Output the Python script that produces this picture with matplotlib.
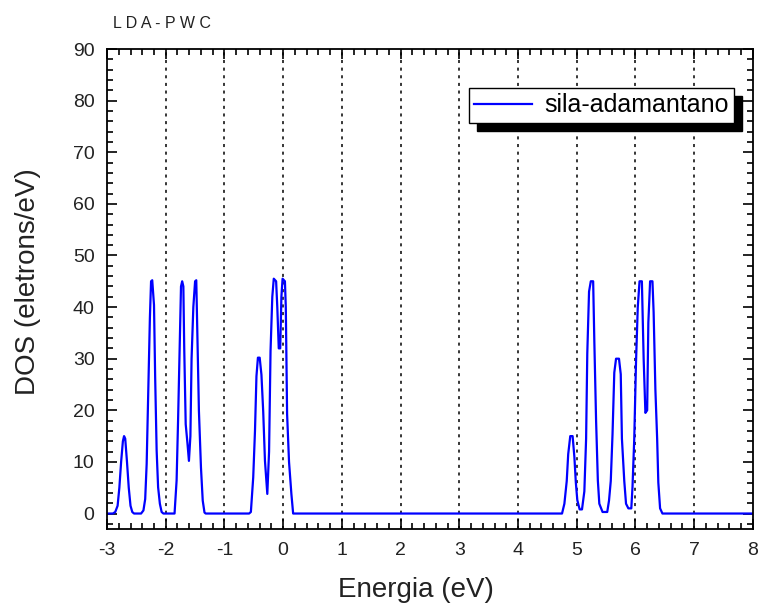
#DOS do sila-adamantano (LDA-PWC)
import numpy as np
import matplotlib.pyplot as plt
from matplotlib.ticker import MultipleLocator

plt.rcParams['font.family'] = ['Liberation Sans', 'DejaVu Sans']
plt.rcParams['axes.unicode_minus'] = False

#Energias (eV)
energia = [-3.0, -2.90, -2.86, -2.82, -2.79, -2.76, -2.73, -2.71, -2.69, -2.66, -2.63, -2.60, -2.57, -2.54,
           -2.42, -2.38, -2.35, -2.325, -2.30, -2.27, -2.25, -2.23, -2.20, -2.18, -2.155, -2.13, -2.10, -2.07, -2.04,
           -1.85, -1.815, -1.79, -1.76, -1.74, -1.72, -1.70, -1.685, -1.66, -1.63, -1.605, -1.58, -1.56, -1.53,
           -1.50, -1.48, -1.465, -1.435, -1.40, -1.37, -1.34, -1.32,
           -0.58, -0.55, -0.51, -0.48, -0.455, -0.43, -0.40, -0.37, -0.34, -0.31, -0.27, -0.24, -0.215, -0.185,
           -0.16, -0.12, -0.10, -0.075, -0.05, -0.03, -0.01, 0.03, 0.045, 0.067, 0.10, 0.14, 0.17,
           4.75, 4.79, 4.83, 4.855, 4.89, 4.93, 4.96, 4.985, 5.01, 5.05, 5.09, 5.13, 5.16, 5.18, 5.21, 5.24, 5.28,
           5.30, 5.33, 5.36, 5.385, 5.44, 5.52, 5.55, 5.58, 5.61, 5.64, 5.67, 5.72, 5.75, 5.77, 5.81, 5.84, 5.88,
           5.93, 5.95, 5.98, 6.01, 6.04, 6.07, 6.11, 6.14, 6.17, 6.20, 6.22, 6.25, 6.29, 6.31, 6.34, 6.37, 6.39,
           6.42, 6.46, 8.0]

#DOS (eletrons/eV)
dos = [0, 0, 0.3, 1.5, 5, 10, 14, 15, 14.5, 10, 5, 1.5, 0.3, 0,
       0, 0.6, 2.8, 9.6, 22.8, 37.9, 45, 45.2, 40.4, 26.3, 12.2, 5.1, 1.9, 0.3, 0,
       0, 6.4, 18, 33.4, 44, 45, 44, 32, 17.3, 13.6, 10.2, 15, 30, 40,
       45, 45.2, 36.6, 19.9, 8.9, 2.5, 0.2, 0,
       0, 0.3, 7, 16, 26.6, 30.2, 30.2, 26.9, 19.8, 10.2, 3.8, 12, 31.5, 42,
       45.5, 45, 40, 32, 32, 42, 45.5, 45, 40, 19.3, 10, 3.8, 0,
       0, 1.9, 6.3, 11.5, 15, 15, 11, 6, 2.6, 0.8, 0.8, 4.3, 14.5, 31, 43, 45, 45,
       33.4, 18, 6.4, 1.9, 0.3, 0.3, 2.5, 6.3, 15.4, 27.3, 30, 30, 27, 14.5, 6.3, 1.9, 1,
       1, 5.1, 14.5, 29.3, 40, 45, 45, 30, 19.5, 20, 37, 45, 45, 39, 24, 14.5, 6,
       1, 0, 0]

fig = plt.figure(figsize=(7.58, 6.03), dpi=100)
ax = fig.add_axes([0.1412, 0.1227, 0.852, 0.796])

ax.plot(energia, dos, color="#0000ff", lw=1.6, label="sila-adamantano")

ax.set_xlim(-3, 8)
ax.set_ylim(-3, 90)
ax.xaxis.set_major_locator(MultipleLocator(1))
ax.xaxis.set_minor_locator(MultipleLocator(0.2))
ax.yaxis.set_major_locator(MultipleLocator(10))
ax.yaxis.set_minor_locator(MultipleLocator(2))
ax.tick_params(which="both", direction="in", top=True, right=True, width=1.2)
ax.tick_params(which="major", length=7, labelsize=14, pad=9, labelcolor="#222222")
ax.tick_params(which="minor", length=4)
for s in ax.spines.values():
    s.set_linewidth(1.3)

#linhas verticais pontilhadas
for xv in range(-2, 8):
    ax.axvline(xv, color="black", ls=(0, (2, 3)), lw=1.1, zorder=0)

ax.set_xlabel("Energia (eV)", fontsize=20, color="#222222")
ax.set_ylabel("DOS (eletrons/eV)", fontsize=20, color="#222222")
ax.xaxis.set_label_coords(0.478, -0.1)
ax.yaxis.set_label_coords(-0.102, 0.515)
fig.text(0.149, 0.953, "L D A - P W C", fontsize=11.5, color="#222222")

leg = ax.legend(loc="upper right", bbox_to_anchor=(0.971, 0.919), fontsize=18, frameon=True,
                fancybox=False, shadow={"color": "black", "alpha": 1.0, "ox": 6, "oy": -6},
                handlelength=2.3, borderpad=0.22, handletextpad=0.5, borderaxespad=0)
leg.get_frame().set_edgecolor("black")
leg.get_frame().set_linewidth(1.0)

plt.savefig("out.png", dpi=100)
